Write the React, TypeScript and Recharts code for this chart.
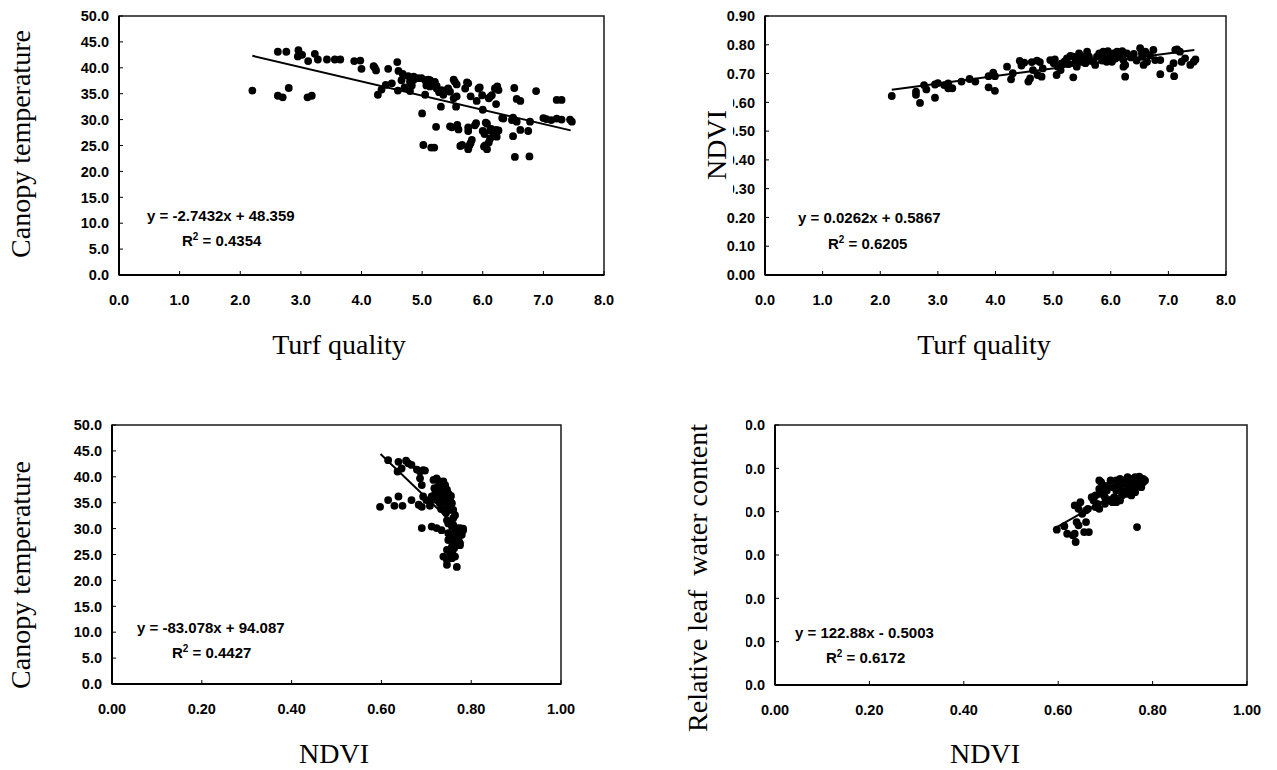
import React from 'react';
import { ScatterChart, Scatter, XAxis, YAxis, ReferenceArea } from 'recharts';

type P = [number, number];

// ---------- tick values ----------
const tqTicks = [0, 1, 2, 3, 4, 5, 6, 7, 8];
const ndviXTicks = [0, 0.2, 0.4, 0.6, 0.8, 1.0];
const ctTicks = [0, 5, 10, 15, 20, 25, 30, 35, 40, 45, 50];
const ndviYTicks = [0, 0.1, 0.2, 0.3, 0.4, 0.5, 0.6, 0.7, 0.8, 0.9];
const rwcTicks = [0, 20, 40, 60, 80, 100, 120];

// ---------- panel 1: turf quality vs canopy temperature ----------
const tqCt: P[] = [
  [2.20, 35.6], [2.62, 43.1], [2.76, 43.1], [2.62, 34.6], [2.70, 34.3], [2.80, 36.1],
  [2.96, 43.4], [2.95, 42.2], [3.02, 42.5], [3.12, 41.3], [3.11, 34.3], [3.18, 34.6],
  [3.23, 42.7], [3.28, 41.6], [3.43, 41.6], [3.56, 41.6], [3.65, 41.6],
  [3.88, 41.3], [3.98, 41.4], [4.00, 39.8], [4.20, 40.3], [4.24, 39.5], [4.22, 40.0],
  [4.27, 34.8], [4.33, 35.8], [4.44, 39.8], [4.40, 36.7], [4.50, 37.0],
  [4.59, 41.1], [4.61, 39.4], [4.60, 35.6], [4.68, 38.8], [4.71, 36.2], [4.66, 37.6],
  [4.77, 38.4], [4.80, 37.3], [4.83, 36.6], [4.80, 35.5], [4.86, 37.7], [4.86, 38.3], [4.93, 38.0], [4.99, 38.0],
  [5.00, 31.2], [5.02, 25.1], [5.07, 36.6], [5.05, 34.8], [5.05, 37.6], [5.10, 37.7], [5.13, 36.4], [5.13, 37.6],
  [5.15, 24.6], [5.20, 24.6], [5.23, 28.6], [5.21, 37.3], [5.24, 36.5], [5.31, 32.5], [5.28, 35.3], [5.24, 36.0],
  [5.35, 34.8], [5.32, 35.7], [5.40, 35.7], [5.43, 36.0], [5.46, 35.4], [5.46, 28.7], [5.49, 28.5],
  [5.52, 37.7], [5.54, 37.3], [5.57, 36.8], [5.57, 34.5], [5.56, 32.5], [5.52, 34.1], [5.58, 29.0], [5.60, 28.1],
  [5.63, 24.9], [5.66, 25.1], [5.71, 36.0], [5.74, 37.2], [5.76, 37.0], [5.76, 28.5], [5.76, 27.8], [5.76, 24.3],
  [5.78, 25.0], [5.80, 34.5], [5.82, 26.1], [5.80, 25.5], [5.87, 28.9], [5.89, 29.3], [5.90, 33.6], [5.93, 36.0],
  [5.95, 36.2], [5.99, 34.7], [6.00, 31.9], [6.00, 27.8], [6.03, 27.2], [6.02, 24.8], [6.04, 25.0], [6.07, 24.3],
  [6.05, 29.4], [6.07, 29.2], [6.10, 25.6], [6.10, 34.1], [6.12, 34.4], [6.12, 26.3], [6.12, 27.9], [6.15, 34.7],
  [6.14, 28.2], [6.18, 27.3], [6.20, 26.8], [6.22, 33.0], [6.22, 28.0], [6.20, 36.0], [6.24, 36.4], [6.26, 35.7],
  [6.26, 27.9], [6.23, 26.7], [6.32, 30.3], [6.34, 30.2], [6.48, 29.9], [6.52, 36.1], [6.50, 30.4], [6.56, 29.6],
  [6.50, 26.8], [6.53, 22.8], [6.56, 34.0], [6.62, 33.6], [6.62, 28.0], [6.88, 35.5], [6.78, 29.6], [6.75, 27.8],
  [6.77, 22.9], [7.00, 30.3], [7.05, 30.1], [7.13, 29.9], [7.22, 30.2], [7.30, 30.0], [7.44, 30.0], [7.47, 29.6],
  [7.22, 33.8], [7.30, 33.8],
];
const trendTqCt: P[] = [[2.2, 42.32], [7.45, 27.92]];

// ---------- panel 2: turf quality vs NDVI ----------
const tqNdvi: P[] = [
  [2.20, 0.622], [2.62, 0.637], [2.62, 0.626], [2.69, 0.598], [2.76, 0.660], [2.80, 0.645], [2.95, 0.616],
  [2.95, 0.662], [3.00, 0.667], [3.11, 0.660], [3.18, 0.649], [3.25, 0.649], [3.18, 0.666], [3.41, 0.672],
  [3.55, 0.681], [3.65, 0.672], [3.88, 0.691], [3.96, 0.703], [3.88, 0.652], [3.99, 0.640], [3.99, 0.691],
  [4.20, 0.724], [4.27, 0.680], [4.30, 0.701], [4.42, 0.744], [4.50, 0.738], [4.45, 0.728],
  [4.57, 0.672], [4.60, 0.683], [4.63, 0.740], [4.72, 0.745], [4.77, 0.740], [4.65, 0.712], [4.73, 0.695],
  [4.80, 0.689], [4.82, 0.718], [4.95, 0.747], [5.01, 0.736], [5.03, 0.749], [5.06, 0.695], [5.08, 0.724],
  [5.11, 0.729], [5.13, 0.712], [5.15, 0.735], [5.20, 0.742], [5.24, 0.753], [5.27, 0.733], [5.30, 0.761],
  [5.35, 0.759], [5.38, 0.738], [5.41, 0.724], [5.44, 0.747], [5.45, 0.770], [5.47, 0.764], [5.50, 0.745],
  [5.53, 0.753], [5.56, 0.736], [5.59, 0.776], [5.62, 0.760], [5.64, 0.747], [5.70, 0.741], [5.73, 0.730],
  [5.76, 0.759], [5.80, 0.770], [5.82, 0.764], [5.85, 0.745], [5.87, 0.776], [5.90, 0.753], [5.93, 0.741],
  [5.95, 0.778], [5.99, 0.764], [6.02, 0.741], [6.05, 0.770], [6.08, 0.752], [6.11, 0.776], [6.16, 0.764],
  [6.20, 0.778], [6.22, 0.747], [6.25, 0.730], [6.28, 0.770], [6.35, 0.756], [6.40, 0.768], [6.45, 0.745],
  [5.35, 0.687], [6.25, 0.689], [6.22, 0.724], [6.51, 0.788], [6.54, 0.770], [6.55, 0.758], [6.60, 0.776],
  [6.57, 0.730], [6.63, 0.741], [6.68, 0.764], [6.74, 0.782], [6.77, 0.747], [6.86, 0.747], [6.86, 0.698],
  [7.03, 0.718], [7.09, 0.736], [7.12, 0.782], [7.15, 0.784], [7.20, 0.776], [7.10, 0.691], [7.23, 0.741],
  [7.29, 0.753], [7.38, 0.730], [7.44, 0.741], [7.47, 0.749],
];
const trendTqNdvi: P[] = [[2.2, 0.644], [7.45, 0.782]];

// ---------- panel 3: NDVI vs canopy temperature ----------
const ndviCt: P[] = [
  [0.597, 34.2], [0.615, 43.2], [0.615, 35.5], [0.629, 34.4], [0.638, 42.9], [0.638, 36.2], [0.636, 41.0],
  [0.647, 34.4], [0.645, 41.6], [0.655, 43.1], [0.660, 42.6], [0.667, 42.3], [0.667, 35.5], [0.679, 41.4],
  [0.686, 41.0], [0.693, 41.3], [0.697, 41.2], [0.686, 39.7], [0.690, 38.4], [0.683, 34.6], [0.690, 34.2],
  [0.690, 30.1], [0.693, 36.2], [0.700, 35.5], [0.708, 35.2], [0.712, 36.2], [0.708, 34.4], [0.712, 30.4],
  [0.723, 30.1], [0.734, 29.7], [0.716, 39.4], [0.723, 39.7], [0.730, 39.1], [0.738, 39.1], [0.742, 38.4],
  [0.718, 37.8], [0.725, 37.1], [0.734, 36.8], [0.742, 36.2], [0.746, 37.5], [0.749, 36.8], [0.716, 36.2],
  [0.723, 35.5], [0.730, 34.9], [0.738, 35.2], [0.746, 35.5], [0.753, 35.8], [0.757, 34.9], [0.746, 34.2],
  [0.753, 33.6], [0.760, 33.6], [0.764, 32.6], [0.746, 31.6], [0.749, 31.0], [0.757, 30.4], [0.760, 30.7],
  [0.768, 30.1], [0.775, 30.1], [0.782, 29.7], [0.749, 29.1], [0.753, 28.4], [0.760, 27.8], [0.768, 28.4],
  [0.775, 27.2], [0.757, 26.5], [0.749, 27.8], [0.764, 29.4], [0.746, 25.9], [0.753, 25.2], [0.738, 24.6],
  [0.746, 23.9], [0.757, 24.3], [0.764, 24.6], [0.746, 23.0], [0.768, 22.6], [0.775, 26.8], [0.779, 28.8],
  [0.782, 30.0], [0.727, 38.2], [0.735, 37.6], [0.740, 35.9], [0.750, 34.6], [0.755, 36.3], [0.744, 33.0],
  [0.733, 33.8], [0.720, 36.8], [0.728, 36.4], [0.760, 32.0], [0.770, 29.2], [0.772, 28.0], [0.765, 27.0],
  [0.758, 25.5], [0.762, 26.2],
];
const trendNdviCt: P[] = [[0.598, 44.4], [0.785, 28.9]];

// ---------- panel 4: NDVI vs relative leaf water content ----------
const ndviRwc: P[] = [
  [0.597, 71.7], [0.613, 73.3], [0.619, 69.8], [0.631, 69.1], [0.635, 69.8], [0.637, 66.0], [0.635, 82.9],
  [0.643, 81.3], [0.647, 84.4], [0.639, 75.2], [0.643, 73.7], [0.651, 79.0], [0.659, 80.6], [0.663, 81.3],
  [0.659, 75.2], [0.655, 70.6], [0.665, 70.6], [0.671, 86.7], [0.675, 85.2], [0.679, 82.1], [0.683, 83.6],
  [0.687, 81.3], [0.687, 94.4], [0.691, 93.6], [0.695, 92.1], [0.687, 90.5], [0.691, 88.2], [0.699, 86.7],
  [0.707, 85.2], [0.715, 84.4], [0.711, 94.4], [0.723, 94.4], [0.731, 95.1], [0.739, 94.4], [0.747, 95.9],
  [0.755, 95.1], [0.763, 95.9], [0.772, 96.2], [0.780, 95.1], [0.715, 91.3], [0.723, 89.8], [0.731, 91.3],
  [0.739, 89.0], [0.747, 92.1], [0.755, 89.8], [0.763, 91.3], [0.772, 92.8], [0.780, 93.6], [0.784, 94.4],
  [0.719, 86.7], [0.731, 85.2], [0.743, 88.2], [0.755, 87.5], [0.723, 84.4], [0.767, 72.9], [0.707, 92.1],
  [0.727, 92.8], [0.735, 92.8], [0.751, 93.6], [0.759, 92.1], [0.767, 94.4], [0.776, 91.3], [0.763, 89.0],
  [0.751, 90.5], [0.735, 87.5], [0.703, 89.8], [0.679, 87.5], [0.699, 83.6],
];
const trendNdviRwc: P[] = [[0.598, 73.0], [0.785, 96.0]];

// ---------- text ----------
const eq1 = ['y = -2.7432x + 48.359', ' = 0.4354'];
const eq2 = ['y = 0.0262x + 0.5867', ' = 0.6205'];
const eq3 = ['y = -83.078x + 94.087', ' = 0.4427'];
const eq4 = ['y = 122.88x - 0.5003', ' = 0.6172'];

const SANS = "'Liberation Sans', Arial, Helvetica, sans-serif";
const SERIF = "'Liberation Serif', 'Times New Roman', Times, serif";

const YW = 70;
const MT = 10;
const MR = 28;
const MB = 6;
const XH = 44;
const TICK_FS = 14.5;

interface PanelProps {
  plotLeft: number;
  plotTop: number;
  plotRight: number;
  plotBottom: number;
  xDomain: [number, number];
  xTicks: number[];
  xDigits: number;
  yDomain: [number, number];
  yTicks: number[];
  yDigits: number;
  points: P[];
  trend: P[];
}

function Panel(p: PanelProps) {
  const left = p.plotLeft - YW;
  const top = p.plotTop - MT;
  const width = p.plotRight - left + MR;
  const height = p.plotBottom - top + XH + MB;
  const axisX = YW;
  const axisY = p.plotBottom - top;
  const data = p.points.map(([x, y]) => ({ x, y }));
  const trend = p.trend.map(([x, y]) => ({ x, y }));

  const YTick = (t: any) => (
    <g>
      <line x1={axisX} x2={axisX + 4} y1={t.y} y2={t.y} stroke="#000" strokeWidth={1} />
      <text x={axisX - 10} y={t.y} dy="0.36em" textAnchor="end" fontFamily={SANS} fontWeight="bold" fontSize={TICK_FS} fill="#000">
        {Number(t.payload.value).toFixed(p.yDigits)}
      </text>
    </g>
  );
  const XTick = (t: any) => (
    <g>
      <line x1={t.x} x2={t.x} y1={axisY} y2={axisY - 4} stroke="#000" strokeWidth={1} />
      <text x={t.x} y={axisY + 25} dy="0.36em" textAnchor="middle" fontFamily={SANS} fontWeight="bold" fontSize={TICK_FS} fill="#000">
        {Number(t.payload.value).toFixed(p.xDigits)}
      </text>
    </g>
  );
  const Dot = (s: any) => <circle cx={s.cx} cy={s.cy} r={3.9} fill="#000" />;
  const Empty = () => <g />;

  return (
    <div style={{ position: 'absolute', left, top, width, height }}>
      <ScatterChart width={width} height={height} margin={{ top: MT, right: MR, bottom: MB, left: 0 }}>
        <XAxis
          type="number"
          dataKey="x"
          domain={p.xDomain}
          ticks={p.xTicks}
          interval={0}
          height={XH}
          axisLine={{ stroke: '#000', strokeWidth: 2 }}
          tickLine={false}
          tick={XTick}
          allowDataOverflow
        />
        <YAxis
          type="number"
          dataKey="y"
          domain={p.yDomain}
          ticks={p.yTicks}
          interval={0}
          width={YW}
          axisLine={{ stroke: '#000', strokeWidth: 2 }}
          tickLine={false}
          tick={YTick}
          allowDataOverflow
        />
        <ReferenceArea
          x1={p.xDomain[0]}
          x2={p.xDomain[1]}
          y1={p.yDomain[0]}
          y2={p.yDomain[1]}
          fill="none"
          stroke="#1a1a1a"
          strokeWidth={1.5}
          ifOverflow="visible"
        />
        <Scatter data={data} shape={Dot} isAnimationActive={false} />
        <Scatter data={trend} shape={Empty} line={{ stroke: '#000', strokeWidth: 2 }} isAnimationActive={false} />
      </ScatterChart>
    </div>
  );
}

function Equation({ x, y, rx, ry, lines }: { x: number; y: number; rx: number; ry: number; lines: string[] }) {
  return (
    <g fontFamily={SANS} fontWeight="bold" fontSize={15} fill="#000">
      <text x={x} y={y}>{lines[0]}</text>
      <text x={rx} y={ry}>
        R<tspan dy={-6} fontSize={10}>2</tspan>
        <tspan dy={6} style={{ whiteSpace: 'pre' }}>{lines[1]}</tspan>
      </text>
    </g>
  );
}

function VTitle({ x, y, text }: { x: number; y: number; text: string }) {
  return (
    <text
      transform={`translate(${x},${y}) rotate(-90)`}
      textAnchor="middle"
      fontFamily={SERIF}
      fontSize={28}
      fill="#000"
      style={{ whiteSpace: 'pre' }}
    >
      {text}
    </text>
  );
}

function HTitle({ x, y, text }: { x: number; y: number; text: string }) {
  return (
    <text x={x} y={y} textAnchor="middle" fontFamily={SERIF} fontSize={28} fill="#000">
      {text}
    </text>
  );
}

export default function App() {
  return (
    <div style={{ position: 'absolute', left: 0, top: 0, width: 1277, height: 770, background: '#fff', overflow: 'hidden' }}>
      <Panel
        plotLeft={119} plotTop={16} plotRight={604} plotBottom={275}
        xDomain={[0, 8]} xTicks={tqTicks} xDigits={1}
        yDomain={[0, 50]} yTicks={ctTicks} yDigits={1}
        points={tqCt} trend={trendTqCt}
      />
      <Panel
        plotLeft={765} plotTop={16} plotRight={1226} plotBottom={275}
        xDomain={[0, 8]} xTicks={tqTicks} xDigits={1}
        yDomain={[0, 0.9]} yTicks={ndviYTicks} yDigits={2}
        points={tqNdvi} trend={trendTqNdvi}
      />
      <Panel
        plotLeft={112} plotTop={425} plotRight={561} plotBottom={684}
        xDomain={[0, 1]} xTicks={ndviXTicks} xDigits={2}
        yDomain={[0, 50]} yTicks={ctTicks} yDigits={1}
        points={ndviCt} trend={trendNdviCt}
      />
      <Panel
        plotLeft={775} plotTop={425} plotRight={1247} plotBottom={685}
        xDomain={[0, 1]} xTicks={ndviXTicks} xDigits={2}
        yDomain={[0, 120]} yTicks={rwcTicks} yDigits={1}
        points={ndviRwc} trend={trendNdviRwc}
      />
      <svg
        width={1277}
        height={770}
        style={{ position: 'absolute', left: 0, top: 0, pointerEvents: 'none' }}
      >
        {/* axis title boxes that mask part of the tick labels */}
        <rect x={690} y={86} width={43} height={118} fill="#fff" />
        <rect x={672} y={410} width={74} height={342} fill="#fff" />

        <VTitle x={30} y={144} text="Canopy temperature" />
        <VTitle x={726} y={145} text="NDVI" />
        <VTitle x={30} y={575} text="Canopy temperature" />
        <VTitle x={707} y={578} text="Relative leaf  water content" />

        <HTitle x={339} y={354} text="Turf quality" />
        <HTitle x={984} y={354} text="Turf quality" />
        <HTitle x={334} y={763} text="NDVI" />
        <HTitle x={985} y={763} text="NDVI" />

        <Equation x={147} y={221} rx={182} ry={246} lines={eq1} />
        <Equation x={798} y={223} rx={828} ry={249} lines={eq2} />
        <Equation x={137} y={633} rx={172} ry={658} lines={eq3} />
        <Equation x={795} y={638} rx={826} ry={663} lines={eq4} />
      </svg>
    </div>
  );
}
